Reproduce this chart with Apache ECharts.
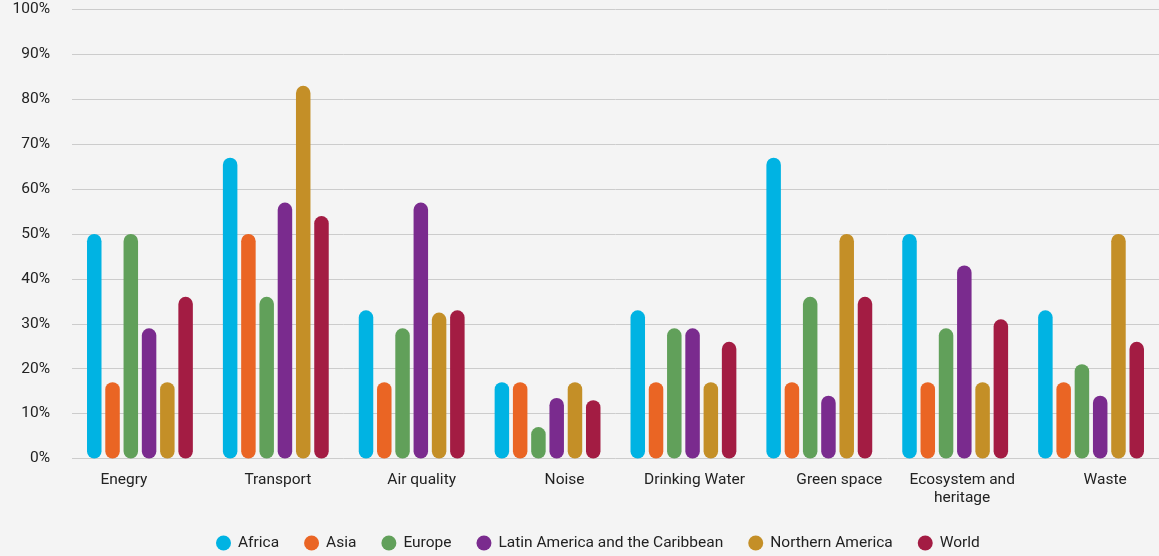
<!DOCTYPE html>
<html>
<head>
<meta charset="utf-8">
<script src="https://cdn.jsdelivr.net/npm/echarts@6/dist/echarts.min.js"></script>
<style>
  html, body { margin: 0; padding: 0; background: #f4f4f4; }
  #chart { width: 1159px; height: 556px; }
</style>
</head>
<body>
<div id="chart"></div>
<script>
// Share of cities reporting each environmental issue, by region (%)
const categories = ['Enegry', 'Transport', 'Air quality', 'Noise', 'Drinking Water',
  'Green space', 'Ecosystem and\nheritage', 'Waste'];
const regions = ['Africa', 'Asia', 'Europe', 'Latin America and the Caribbean', 'Northern America', 'World'];

const africa   = [50, 67, 33, 17, 33, 67, 50, 33];
const asia     = [17, 50, 17, 17, 17, 17, 17, 17];
const europe   = [50, 36, 29, 7, 29, 36, 29, 21];
const latam    = [29, 57, 57, 13.5, 29, 14, 43, 14];
const namerica = [17, 83, 32.5, 17, 17, 50, 17, 50];
const world    = [36, 54, 33, 13, 26, 36, 31, 26];

const yTicks = [0, 10, 20, 30, 40, 50, 60, 70, 80, 90, 100];

const seriesValues = [africa, asia, europe, latam, namerica, world];
const colors = ['#00b3e3', '#ea6524', '#61a05a', '#7a2b8e', '#c48f27', '#a31c43'];

const FONT = 'Roboto, sans-serif';
const FONT_SIZE = 15.5;

// horizontal nudges for the category labels (px, + = right)
const labelNudge = [-16, 2, 10, 17, 11, 20, 7, 14];
const rich = {};
labelNudge.forEach((n, i) => {
  rich['c' + i] = {
    fontSize: FONT_SIZE, color: '#222', lineHeight: 18,
    fontFamily: FONT,
    padding: n >= 0 ? [0, 0, 0, 2 * n] : [0, -2 * n, 0, 0]
  };
});

const chart = echarts.init(document.getElementById('chart'), null, { renderer: 'canvas' });
chart.setOption({
  backgroundColor: '#f4f4f4',
  animation: false,
  textStyle: { fontFamily: FONT },
  grid: { left: 72, top: 9.5, width: 1090, height: 449, containLabel: false },
  xAxis: {
    type: 'category',
    data: categories,
    axisLine: { show: false },
    axisTick: { show: false },
    axisLabel: {
      margin: 13,
      interval: 0,
      formatter: (v, i) => v.split('\n').map(s => '{c' + i + '|' + s + '}').join('\n'),
      rich: rich
    }
  },
  yAxis: {
    type: 'value',
    min: yTicks[0],
    max: yTicks[yTicks.length - 1],
    interval: 10,
    axisLine: { show: false },
    axisTick: { show: false },
    splitLine: { lineStyle: { color: '#cccccc', width: 1 } },
    axisLabel: {
      margin: 22,
      fontSize: FONT_SIZE,
      color: '#222',
      fontFamily: FONT,
      formatter: v => v + '%'
    }
  },
  legend: {
    left: 211,
    bottom: 0,
    icon: 'circle',
    itemWidth: 15,
    itemHeight: 15,
    itemGap: 25,
    textStyle: { fontSize: FONT_SIZE, color: '#222', fontFamily: FONT, padding: [0, 0, 0, 2] },
    data: regions
  },
  series: regions.map((name, i) => ({
    name: name,
    type: 'bar',
    data: seriesValues[i],
    barWidth: 14.5,
    barGap: '26%',
    itemStyle: { color: colors[i], borderRadius: 7.25 }
  }))
});
</script>
</body>
</html>
